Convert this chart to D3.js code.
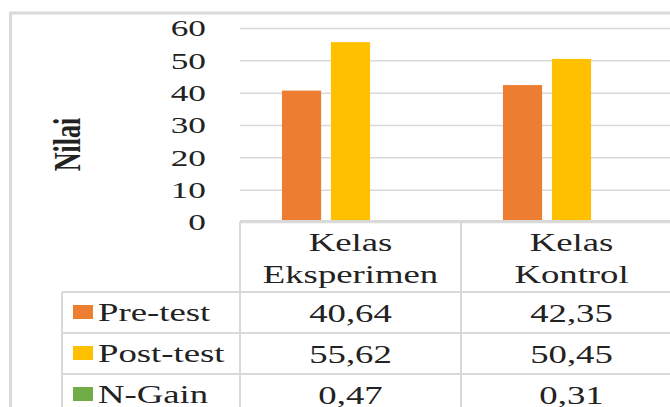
<!DOCTYPE html>
<html>
<head>
<meta charset="utf-8">
<script src="https://cdn.jsdelivr.net/npm/d3@7"></script>
<style>
  html, body { margin: 0; padding: 0; background: #fff; overflow: hidden; }
  svg { display: block; font-family: "Liberation Serif", "Times New Roman", serif; }
</style>
</head>
<body>
<div id="chart"></div>
<script>
const categories = ['Kelas Eksperimen', 'Kelas Kontrol'];
const categoryLines = [['Kelas', 'Eksperimen'], ['Kelas', 'Kontrol']];
const seriesNames = ['Pre-test', 'Post-test', 'N-Gain'];
const preTest = [40.64, 42.35];
const postTest = [55.62, 50.45];
const nGain = [0.47, 0.31];
const yTicks = [0, 10, 20, 30, 40, 50, 60];

const seriesValues = [preTest, postTest, nGain];
const colors = { 'Pre-test': '#ED7D31', 'Post-test': '#FFC000', 'N-Gain': '#70AD47' };
const gridColor = '#d9d9d9';
const textColor = '#222';
const SX = 1.47; // text in the source is stretched sideways

const W = 670, H = 407;
const plot = { left: 240, right: 682, top: 28, bottom: 222 };
const rowTop = 292, rowH = 41, tableLeft = 62;

const fmt = d3.formatLocale({ decimal: ',', thousands: '.', grouping: [3], currency: ['', ''] }).format('.2f');

const svg = d3.select('#chart').append('svg')
  .attr('width', W).attr('height', H);

// outer chart border
svg.append('rect')
  .attr('x', 10.5).attr('y', 13).attr('width', 700).attr('height', 420)
  .attr('fill', 'none').attr('stroke', gridColor).attr('stroke-width', 3);

const x0 = d3.scaleBand().domain(categories).range([plot.left, plot.right]);
const x1 = d3.scaleBand().domain(seriesNames).range([0, x0.bandwidth()])
  .paddingInner(0.2).paddingOuter(0.857);
const y = d3.scaleLinear().domain([0, 60]).range([plot.bottom, plot.top]);

// gridlines
svg.append('g')
  .attr('transform', `translate(${plot.left},0)`)
  .call(d3.axisLeft(y).tickValues(yTicks).tickSize(-(plot.right - plot.left)).tickFormat(''))
  .call(a => a.select('.domain').remove())
  .call(a => a.selectAll('.tick line').attr('stroke', gridColor).attr('stroke-width', 1.5));

// y tick labels
svg.append('g')
  .attr('transform', 'translate(206,0)')
  .call(d3.axisLeft(y).tickValues(yTicks).tickSize(0).tickPadding(0))
  .call(a => a.select('.domain').remove())
  .call(a => a.selectAll('.tick text')
    .attr('x', 0)
    .attr('transform', `scale(${SX},1)`)
    .attr('fill', textColor)
    .attr('font-size', 24)
    .attr('font-family', '"Liberation Serif", "Times New Roman", serif'));

// bars
const barData = [];
seriesNames.forEach((s, i) => {
  categories.forEach((c, j) => barData.push({ series: s, cat: c, value: seriesValues[i][j] }));
});
svg.append('g').selectAll('rect')
  .data(barData)
  .join('rect')
  .attr('x', d => x0(d.cat) + x1(d.series))
  .attr('y', d => y(d.value))
  .attr('width', x1.bandwidth())
  .attr('height', d => y(0) - y(d.value))
  .attr('fill', d => colors[d.series]);

// data table lines
const table = svg.append('g')
  .attr('stroke', gridColor).attr('stroke-width', 2);
table.append('line').attr('x1', plot.left).attr('x2', 700)
  .attr('y1', plot.bottom - 0.5).attr('y2', plot.bottom - 0.5).attr('stroke-width', 3);
[0, 1, 2, 3].forEach(k => {
  table.append('line')
    .attr('x1', tableLeft).attr('x2', 700)
    .attr('y1', rowTop + k * rowH).attr('y2', rowTop + k * rowH);
});
table.append('line').attr('x1', tableLeft).attr('x2', tableLeft).attr('y1', rowTop).attr('y2', H + 10);
categories.forEach(c => {
  table.append('line').attr('x1', x0(c)).attr('x2', x0(c)).attr('y1', plot.bottom).attr('y2', H + 10);
});
table.append('line').attr('x1', plot.right).attr('x2', plot.right).attr('y1', plot.bottom).attr('y2', H + 10);

function stretchedText(g, x, yPos, str, anchor, size, weight) {
  return g.append('text')
    .attr('transform', `translate(${x},${yPos}) scale(${SX},1)`)
    .attr('text-anchor', anchor)
    .attr('font-size', size)
    .attr('font-weight', weight || 'normal')
    .attr('fill', textColor)
    .text(str);
}

const labels = svg.append('g');

// category header
categories.forEach((c, j) => {
  const cx = x0(c) + x0.bandwidth() / 2;
  categoryLines[j].forEach((line, k) => stretchedText(labels, cx, 251 + k * 32, line, 'middle', 25));
});

// legend keys + values
seriesNames.forEach((s, i) => {
  const top = rowTop + i * rowH;
  svg.append('rect')
    .attr('x', 73).attr('y', top + 13).attr('width', 20).attr('height', 14)
    .attr('fill', colors[s]);
  stretchedText(labels, 98, top + 29, s, 'start', 25);
  categories.forEach((c, j) => {
    stretchedText(labels, x0(c) + x0.bandwidth() / 2, top + 30, fmt(seriesValues[i][j]), 'middle', 25);
  });
});

// axis title
labels.append('text')
  .attr('transform', `translate(80,144.5) scale(${SX},1) rotate(-90)`)
  .attr('text-anchor', 'middle')
  .attr('font-size', 26)
  .attr('font-weight', 'bold')
  .attr('fill', textColor)
  .text('Nilai');
</script>
</body>
</html>
